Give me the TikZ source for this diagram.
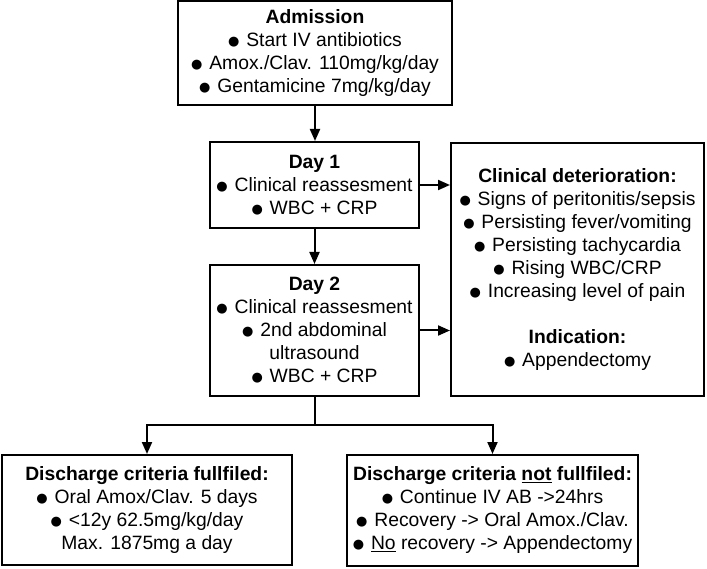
\documentclass[tikz,border=0pt]{standalone}
\usepackage{fontspec}
\setmainfont{Liberation Sans}
\newfontfamily\djv{DejaVu Sans}
\usetikzlibrary{arrows.meta}
\newcommand\bul{\raisebox{1pt}{\djv\fontsize{13}{13}\selectfont ●}\kern1.5pt\ }
\begin{document}
\begin{tikzpicture}[x=1pt,y=-1pt,
  box/.style={draw, line width=2pt, rectangle, align=center, inner sep=0pt,
    font=\fontsize{19.3}{23}\selectfont},
  conn/.style={line width=2pt},
  arr/.style={line width=2pt, -{Triangle[length=12pt,width=10pt]}}]
\useasboundingbox (0,0) rectangle (707,569);
\node[box, minimum width=274, minimum height=104] (adm) at (315,53)
  {\textbf{Admission}\\ \bul Start IV antibiotics\\ \bul Amox./Clav. 110mg/kg/day\\ \bul Gentamicine 7mg/kg/day};
\node[box, minimum width=209, minimum height=86] (d1) at (314.5,185)
  {\textbf{Day 1}\\ \bul Clinical reassesment\\ \bul WBC + CRP};
\node[box, minimum width=209, minimum height=131] (d2) at (314.5,330.5)
  {\textbf{Day 2}\\ \bul Clinical reassesment\\ \bul 2nd abdominal\\ ultrasound\\ \bul WBC + CRP};
\node[box, minimum width=253, minimum height=253] (cd) at (577.5,269.5)
  {\textbf{Clinical deterioration:}\\ \bul Signs of peritonitis/sepsis\\ \bul Persisting fever/vomiting\\ \bul Persisting tachycardia\\ \bul Rising WBC/CRP\\ \bul Increasing level of pain\\ \strut\\ \textbf{Indication:}\\ \bul Appendectomy};
\node[box, minimum width=290, minimum height=110] (ok) at (147,510)
  {\textbf{Discharge criteria fullfiled:}\\ \bul Oral Amox/Clav. 5 days\\ \bul <12y 62.5mg/kg/day\\ Max. 1875mg a day};
\node[box, minimum width=291, minimum height=111] (nok) at (492.5,510.5)
  {\textbf{Discharge criteria \underline{not} fullfiled:}\\ \bul Continue IV AB ->24hrs\\ \bul Recovery -> Oral Amox./Clav.\\ \bul \underline{No} recovery -> Appendectomy};
\coordinate (j) at (314.5,425);
\draw[arr] (adm.south) -- (adm.south |- d1.north);
\draw[arr] (d1.south) -- (d2.north);
\draw[arr] (d1.east) -- (d1.east -| cd.west);
\draw[arr] (d2.east) -- (d2.east -| cd.west);
\draw[conn] (d2.south) -- (j);
\draw[arr] (j) -| (ok.north);
\draw[arr] (j) -| (nok.north);
\end{tikzpicture}
\end{document}
